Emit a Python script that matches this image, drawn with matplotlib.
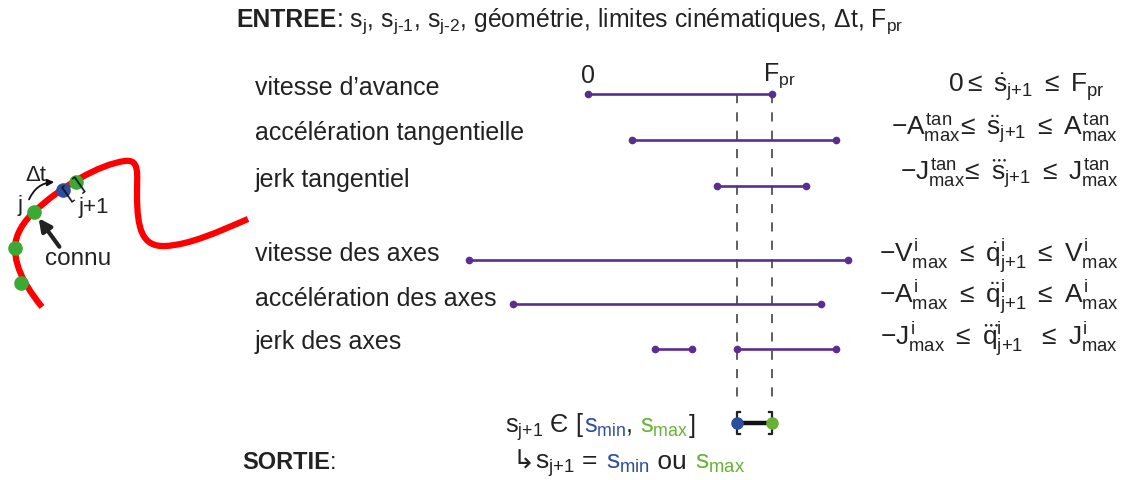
import numpy as np
import matplotlib
matplotlib.use("Agg")
import matplotlib.pyplot as plt
from matplotlib.path import Path
from matplotlib.patches import PathPatch, FancyArrowPatch

plt.rcParams['font.family'] = ['Liberation Sans', 'DejaVu Sans']
plt.rcParams['mathtext.fontset'] = 'custom'
plt.rcParams['mathtext.rm'] = 'Liberation Sans'
plt.rcParams['mathtext.it'] = 'Liberation Sans'
plt.rcParams['mathtext.sf'] = 'Liberation Sans'
plt.rcParams['mathtext.bf'] = 'Liberation Sans:bold'

# Constraint rows (left label, interval pieces, right formula)
labels = ["vitesse d’avance", "accélération tangentielle", "jerk tangentiel",
          "vitesse des axes", "accélération des axes", "jerk des axes"]
intervals = [
    [(588, 772)],
    [(632, 836)],
    [(717, 806)],
    [(469, 848)],
    [(513, 821)],
    [(655, 692), (737, 836)],
]
formulas = [
    r'$0\leq\ \dot{s}_{j{+}1}\ \leq\ F_{pr}$',
    r'$-A^{tan}_{max}\!\leq\ \ddot{s}_{j{+}1}\ \leq\ A^{tan}_{max}$',
    r'$-J^{tan}_{max}\!\leq\ \dddot{s}_{j{+}1}\ \leq\ J^{tan}_{max}$',
    r'$-V^{i}_{max}\ \leq\ \dot{q}^{i}_{j{+}1}\ \leq\ V^{i}_{max}$',
    r'$-A^{i}_{max}\ \leq\ \ddot{q}^{i}_{j{+}1}\ \leq\ A^{i}_{max}$',
    r'$-J^{i}_{max}\ \leq\ \dddot{q}^{i}_{j{+}1}\ \ \leq\ J^{i}_{max}$',
]
s_min, s_max = 737, 772

# layout
row_y = [95, 141, 187, 261, 305, 350]
label_y = [88, 133, 180, 254, 299, 342]
formula_y = [87, 129, 174, 256, 297, 339]
formula_right = [1105, 1118, 1118, 1118, 1118, 1118]

PURPLE = "#5c2d91"
BLUE = "#2b4f9e"
GREEN = "#67b134"
CURVE_GREEN = "#3aaa35"
INK = "#222222"

fig = plt.figure(figsize=(11.23, 4.81), dpi=100)
ax = fig.add_axes([0, 0, 1, 1])
ax.set_xlim(0, 1123)
ax.set_ylim(481, 0)
ax.axis('off')

# dashed guide lines
for xv in (s_min, s_max):
    ax.plot([xv, xv], [row_y[0], 405], color="#333333", lw=1.1, dashes=(6, 6))

for lab, ivs, form, ry, ly, fy, fr in zip(labels, intervals, formulas, row_y, label_y,
                                          formula_y, formula_right):
    ax.text(255, ly, lab, fontsize=18, va='center', ha='left', color=INK)
    for a, b in ivs:
        ax.plot([a, b], [ry, ry], color=PURPLE, lw=1.9, marker='o', ms=4.5,
                solid_capstyle='butt', zorder=3)
    ax.text(fr, fy, form, fontsize=19, va='center', ha='right', color=INK)

ax.text(588, 76, "0", fontsize=18, ha='center', va='center', color=INK)
ax.text(763, 76, r'F$_{\rm pr}$', fontsize=18, ha='left', va='center', color=INK)

# output interval
ax.plot([s_min, s_max], [424, 424], color="#111111", lw=3.2, zorder=4)
for xv, sgn in ((s_min, 1), (s_max, -1)):
    ax.plot([xv + 3 * sgn, xv, xv, xv + 3 * sgn], [413, 413, 435, 435], color=INK, lw=1.6, zorder=4)
ax.plot([s_min], [424], 'o', color=BLUE, ms=8, zorder=5)
ax.plot([s_max], [424], 'o', color=GREEN, ms=8, zorder=5)

renderer = fig.canvas.get_renderer()


def chain(x, y, pieces, size, **kw):
    for s, c, w in pieces:
        t = ax.text(x, y, s, color=c, fontsize=size, fontweight=w, va='baseline', ha='left', **kw)
        x += t.get_window_extent(renderer=renderer).width


# header
chain(236, 27, [('ENTREE', INK, 'bold'),
                (r': s$_{j}$, s$_{\text{j-1}}$, s$_{\text{j-2}}$, géométrie, limites cinématiques, Δt, F$_{\rm pr}$', INK, 'normal')],
      17.8, family=['Liberation Sans Narrow', 'Liberation Sans'])
chain(242, 469, [('SORTIE', INK, 'bold'), (':', INK, 'normal')], 17)

# chained coloured text
chain(505, 433, [(r's$_{j{+}1}$ Є [', INK, 'normal'), (r's$_{min}$', BLUE, 'normal'), (', ', INK, 'normal'),
                 (r's$_{max}$', GREEN, 'normal'), (']', INK, 'normal')], 18.3)
chain(513, 469, [('↳', INK, 'normal'), (r's$_{j{+}1}$ =  ', INK, 'normal'), (r's$_{min}$', BLUE, 'normal'),
                 (' ou ', INK, 'normal'), (r's$_{max}$', GREEN, 'normal')], 19)

# path sketch on the left
verts = [(42, 308),
         (30, 293), (15, 272), (15, 249),
         (15, 235), (25, 221), (34, 213),
         (60, 188), (100, 165), (125, 162),
         (140, 160), (137, 175), (137, 195),
         (137, 230), (142, 248), (165, 247),
         (190, 246), (220, 232), (248, 220)]
codes = [Path.MOVETO] + [Path.CURVE4] * 18
ax.add_patch(PathPatch(Path(verts, codes), fill=False, edgecolor="#ff0000", lw=4.5,
                       capstyle='butt', zorder=2))
pts_x = [21, 15, 34, 76]
pts_y = [284, 249, 213, 183]
ax.plot(pts_x, pts_y, 'o', color=CURVE_GREEN, ms=10.5, zorder=3, mec='none')
ax.plot([63], [191], 'o', color=BLUE, ms=10.5, zorder=3, mec='none')
ax.text(67, 194, '[', fontsize=15, rotation=35, ha='center', va='center', color="#111111", zorder=4)
ax.text(80, 185, ']', fontsize=15, rotation=35, ha='center', va='center', color="#111111", zorder=4)

ax.add_patch(FancyArrowPatch((28, 203), (57, 183), connectionstyle="arc3,rad=-0.35",
                             arrowstyle='-|>', mutation_scale=10, lw=1.3, color="#111111", zorder=4))
ax.add_patch(FancyArrowPatch((61, 250), (37, 217), arrowstyle='-|>', mutation_scale=18,
                             lw=3, color=INK, zorder=4))
ax.text(36, 176, 'Δt', fontsize=16, ha='center', va='center', color=INK)
ax.text(20, 206, 'j', fontsize=16, ha='center', va='center', color=INK)
ax.text(94, 208, 'j+1', fontsize=16, ha='center', va='center', color=INK)
ax.text(78, 259, 'connu', fontsize=17.5, ha='center', va='center', color=INK)

fig.savefig("out.png", dpi=100)
